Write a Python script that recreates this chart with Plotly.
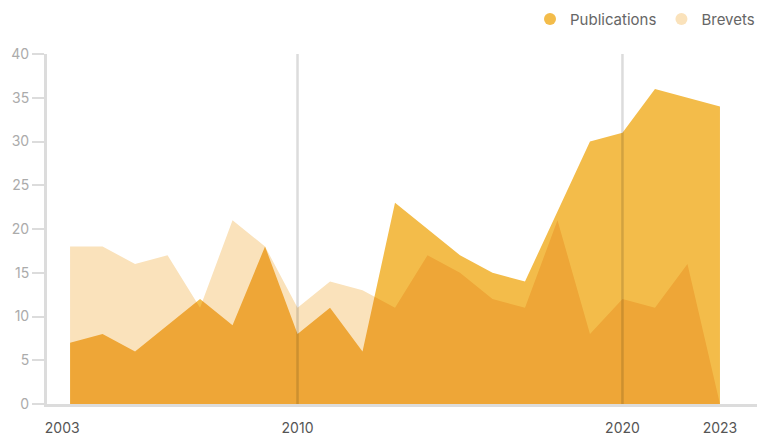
import plotly.graph_objects as go

years = list(range(2003, 2024))
publications = [7, 8, 6, 9, 12, 9, 18, 8, 11, 6, 23, 20, 17, 15, 14, 22, 30, 31, 36, 35, 34]
brevets = [18, 18, 16, 17, 11, 21, 18, 11, 14, 13, 11, 17, 15, 12, 11, 21, 8, 12, 11, 16, 0]
x_ticks = [2003, 2010, 2020, 2023]
x_ticklabels = ["2003\u00a0\u00a0\u00a0\u00a0", "2010", "2020", "2023"]
y_ticks = [0, 5, 10, 15, 20, 25, 30, 35, 40]
marker_years = [2010, 2020]
y_range = [0, 40]

PUB_COL = "#F3BC4A"
BRE_COL = "#FAE2BB"
LINE_COL = "#DCDCDC"
FONT = "Inter"

fig = go.Figure()
# vertical reference lines (drawn first so the multiplied fills darken them)
for yr in marker_years:
    fig.add_trace(go.Scatter(x=[yr, yr], y=y_range, mode="lines",
                             line=dict(color=LINE_COL, width=2.5),
                             showlegend=False, hoverinfo="skip"))
fig.add_trace(go.Scatter(x=years, y=brevets, mode="lines", fill="tozeroy",
                         fillcolor=BRE_COL, line=dict(width=0, color=BRE_COL),
                         showlegend=False, hoverinfo="skip"))
fig.add_trace(go.Scatter(x=years, y=publications, mode="lines", fill="tozeroy",
                         fillcolor=PUB_COL, line=dict(width=0, color=PUB_COL),
                         showlegend=False, hoverinfo="skip"))
# legend entries with circle markers
fig.add_trace(go.Scatter(x=[None], y=[None], mode="markers", name="Publications",
                         marker=dict(size=15, color=PUB_COL, symbol="circle")))
fig.add_trace(go.Scatter(x=[None], y=[None], mode="markers", name="Brevets",
                         marker=dict(size=15, color=BRE_COL, symbol="circle")))

fig.update_layout(
    width=760, height=435,
    margin=dict(l=47, r=3, t=54, b=31, autoexpand=False),
    paper_bgcolor="white", plot_bgcolor="white",
    font=dict(family=FONT, size=14, color="#666666"),
    legend=dict(orientation="h", xref="container", yref="container",
                x=1.0, xanchor="right", y=0.956, yanchor="middle",
                font=dict(family=FONT, size=15, color="#666666"),
                itemsizing="constant", itemwidth=30, tracegroupgap=0,
                bgcolor="rgba(0,0,0,0)"),
    xaxis=dict(range=[2002.29, 2024.14], tickvals=x_ticks,
               ticktext=x_ticklabels, showgrid=False, zeroline=False,
               showline=True, linecolor=LINE_COL, linewidth=3, ticks="",
               automargin=False, ticklabelstandoff=9,
               tickfont=dict(family=FONT, size=14, color="#555555")),
    yaxis=dict(range=y_range, tickvals=y_ticks, showgrid=False, zeroline=False,
               showline=True, linecolor=LINE_COL, linewidth=3, ticks="outside",
               ticklen=12, tickwidth=2, tickcolor=LINE_COL, automargin=False,
               tickfont=dict(family=FONT, size=14, color="#ABABAB")),
)

post = """
document.body.style.margin = '0';
var gd = document.getElementById('{plot_id}');
function blend(){
  gd.querySelectorAll('.scatterlayer .js-fill').forEach(function(p){ p.style.mixBlendMode = 'multiply'; });
}
blend();
gd.on('plotly_afterplot', blend);
"""
fig.write_html("out.html", post_script=post, config={"displayModeBar": False})
